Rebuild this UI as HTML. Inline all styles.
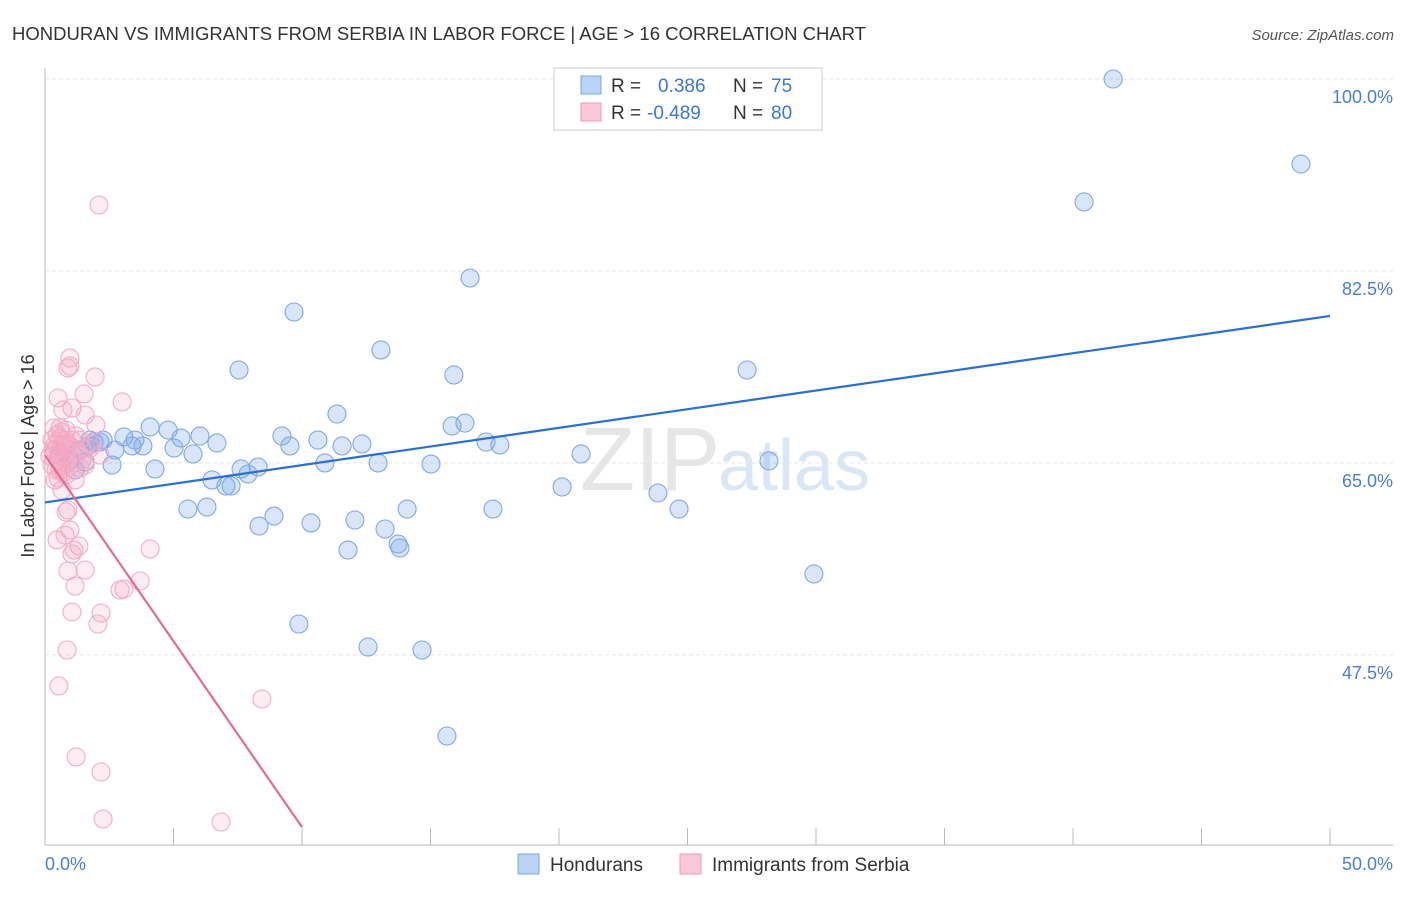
<!DOCTYPE html>
<html><head><meta charset="utf-8"><style>
body{margin:0;background:#fff;font-family:"Liberation Sans",sans-serif;}
svg text{font-family:"Liberation Sans",sans-serif;}
</style></head><body>
<svg id="chart" width="1406" height="892" xmlns="http://www.w3.org/2000/svg">
<text x="12" y="40" font-size="18" fill="#333" textLength="854" lengthAdjust="spacingAndGlyphs">HONDURAN VS IMMIGRANTS FROM SERBIA IN LABOR FORCE | AGE &gt; 16 CORRELATION CHART</text>
<text x="1394" y="40" font-size="15" fill="#555" font-style="italic" text-anchor="end">Source: ZipAtlas.com</text>
<text x="720" y="490" font-size="90" fill="#e6e6e6" font-family="Liberation Serif" text-anchor="end">ZIP</text>
<text x="718" y="490" font-size="72" fill="#d8e6f6">atlas</text>
<g id="grid"></g>
<g id="axes"></g>
<g id="pts"></g>
<text transform="translate(34,456) rotate(-90)" font-size="18" fill="#333" text-anchor="middle">In Labor Force | Age &gt; 16</text>
<text x="45" y="870" font-size="18" fill="#4a7fd6">0.0%</text>
<text x="1393" y="870" font-size="18" fill="#4a7fd6" text-anchor="end">50.0%</text>
<g>
<rect x="554" y="68" width="268" height="62" fill="#fff" stroke="#ccc"/>
<rect x="581" y="76" width="20" height="18" fill="#b9d3f5" stroke="#7aa6e6"/>
<text x="611" y="92" font-size="19" fill="#333">R = </text><text x="658" y="92" font-size="19" fill="#3a78d8">0.386</text>
<text x="733" y="92" font-size="19" fill="#333">N = </text><text x="771" y="92" font-size="19" fill="#3a78d8">75</text>
<rect x="581" y="103" width="20" height="18" fill="#fbc8d8" stroke="#f09ab8"/>
<text x="611" y="119" font-size="19" fill="#333">R = </text><text x="647" y="119" font-size="19" fill="#3a78d8">-0.489</text>
<text x="733" y="119" font-size="19" fill="#333">N = </text><text x="771" y="119" font-size="19" fill="#3a78d8">80</text>
</g>
<g>
<rect x="518" y="854" width="21" height="20" fill="#b9d3f5" stroke="#7aa6e6"/>
<text x="550" y="871" font-size="19" fill="#333">Hondurans</text>
<rect x="680" y="854" width="21" height="20" fill="#fbc8d8" stroke="#f09ab8"/>
<text x="712" y="871" font-size="19" fill="#333">Immigrants from Serbia</text>
</g>
</svg>
<script>
const yTicks=[100,82.5,65,47.5];
const yTickLabels=["100.0%","82.5%","65.0%","47.5%"];
const xTicks=[0,5,10,15,20,25,30,35,40,45,50];
const bluePx=[[1113,79],[1301,164],[1084,202],[470,278],[294,312],[381,350],[239,370],[454,375],[747,370],[337,414],[465,423],[452,426],[150,427],[168,430],[200,436],[124,437],[181,438],[103,440],[282,436],[318,440],[94,442],[88,446],[132,446],[143,446],[217,443],[174,448],[290,446],[362,444],[342,446],[486,442],[500,445],[193,454],[581,454],[112,465],[155,469],[325,463],[378,463],[431,464],[769,461],[241,469],[258,467],[248,474],[212,480],[226,486],[231,486],[562,487],[658,493],[188,509],[207,507],[274,516],[407,509],[493,509],[679,509],[259,526],[311,523],[355,520],[385,529],[398,544],[400,548],[348,550],[814,574],[299,624],[368,647],[422,650],[447,736],[60,455],[70,460],[80,450],[100,442],[85,462],[75,470],[65,448],[90,440],[115,450],[135,440]];
const pinkPx=[[99,205],[70,358],[70,366],[68,368],[95,377],[84,394],[58,398],[63,410],[72,408],[122,402],[85,415],[96,425],[60,428],[57,435],[65,440],[62,445],[55,450],[70,455],[58,460],[52,465],[60,470],[66,475],[75,480],[85,465],[80,468],[100,455],[90,448],[55,480],[62,490],[68,510],[66,512],[70,530],[57,540],[65,535],[79,546],[74,550],[72,554],[150,549],[85,570],[68,571],[75,586],[140,581],[124,589],[120,590],[72,612],[101,613],[98,624],[67,650],[59,686],[262,699],[76,757],[101,772],[103,819],[221,822],[55,445],[58,455],[62,462],[68,445],[52,440],[74,462],[78,452],[56,470],[64,458],[60,438],[82,460],[54,428],[66,430],[72,440],[50,456],[80,440],[92,444],[58,478],[63,466],[70,446],[53,450],[61,432],[67,458],[57,448],[76,436],[64,472]];
const blueX=bluePx.map(p=>+((p[0]-45)/25.7).toFixed(2));
const blueY=bluePx.map(p=>+(100-(p[1]-79)/10.97).toFixed(2));
const pinkX=pinkPx.map(p=>+((p[0]-45)/25.7).toFixed(2));
const pinkY=pinkPx.map(p=>+(100-(p[1]-79)/10.97).toFixed(2));
const blueTrend=[[0,61.4],[50,78.4]];
const pinkTrend=[[0,65.7],[10,31.8]];
const X=v=>45+v*25.7, Y=v=>79+(100-v)*10.97;
const NS="http://www.w3.org/2000/svg";
function mk(tag,attrs,parent){const e=document.createElementNS(NS,tag);for(const k in attrs)e.setAttribute(k,attrs[k]);parent.appendChild(e);return e;}
const grid=document.getElementById('grid'),axes=document.getElementById('axes'),pts=document.getElementById('pts');
yTicks.forEach((t,i)=>{
 const l=mk('line',{x1:45,x2:1393,y1:Y(t),y2:Y(t),stroke:'#e4e4e4','stroke-dasharray':'4,3'},grid);
 
 
 const tx=mk('text',{x:1393,y:Y(t)+24,'font-size':18,fill:'#4a7fd6','text-anchor':'end'},grid);
 tx.textContent=yTickLabels[i];
 
 
});
const ax=mk('line',{x1:45,x2:45,y1:68,y2:845,stroke:'#bbb'},axes);


const bx=mk('line',{x1:45,x2:1393,y1:845,y2:845,stroke:'#bbb'},axes);


xTicks.forEach(t=>{
 const l=mk('line',{x1:X(t),x2:X(t),y1:828,y2:845,stroke:'#bbb'},axes);
 
 
});
blueX.forEach((x,i)=>{
 const c=mk('circle',{cx:X(x),cy:Y(blueY[i]),r:9,fill:'rgba(120,165,235,0.28)',stroke:'#80aae6','stroke-width':1.1},pts);
 
 
});
pinkX.forEach((x,i)=>{
 const c=mk('circle',{cx:X(x),cy:Y(pinkY[i]),r:9,fill:'rgba(245,160,190,0.2)',stroke:'#f5adc6','stroke-width':1.1},pts);
 
 
});
const bl=mk('line',{x1:X(blueTrend[0][0]),y1:Y(blueTrend[0][1]),x2:X(blueTrend[1][0]),y2:Y(blueTrend[1][1]),stroke:'#2a6fd6','stroke-width':2.2},pts);


const pl=mk('line',{x1:X(pinkTrend[0][0]),y1:Y(pinkTrend[0][1]),x2:X(pinkTrend[1][0]),y2:Y(pinkTrend[1][1]),stroke:'#e8689a','stroke-width':2.2},pts);


</script>
</body></html>
